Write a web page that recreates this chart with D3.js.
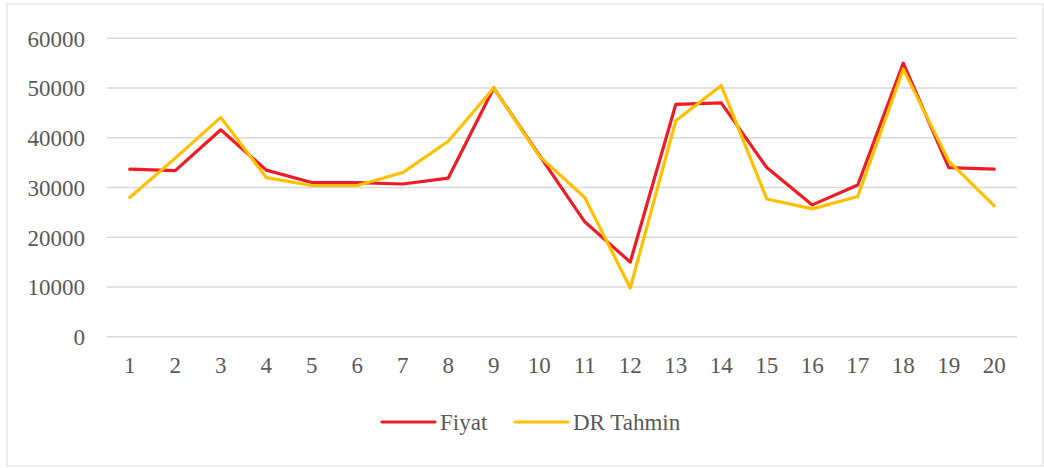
<!DOCTYPE html>
<html>
<head>
<meta charset="utf-8">
<script src="https://cdn.jsdelivr.net/npm/d3@7"></script>
<style>
  html, body { margin: 0; padding: 0; background: #fff; }
  svg { display: block; }
  svg text { font-family: "Times New Roman", "Liberation Serif", "DejaVu Serif", serif !important; fill: #595959; }
</style>
</head>
<body>
<svg id="chart" width="1044" height="468"></svg>
<script>
// data
var categories = ["1","2","3","4","5","6","7","8","9","10","11","12","13","14","15","16","17","18","19","20"];
var fiyat = [33700, 33400, 41600, 33500, 31000, 31000, 30700, 31900, 50000, 36500,
             23100, 15000, 46700, 47000, 34000, 26500, 30500, 55000, 34000, 33700];
var drTahmin = [28000, 35900, 44100, 32000, 30400, 30400, 33000, 39300, 50000, 36300,
                28000, 9800, 43400, 50500, 27700, 25700, 28200, 53800, 35300, 26300];
var yTicks = [0, 10000, 20000, 30000, 40000, 50000, 60000];
var seriesNames = ["Fiyat", "DR Tahmin"];
var seriesColors = ["#EE1C25", "#FFC000"];

var svg = d3.select("#chart");

// outer frame
svg.append("rect")
  .attr("x", 7).attr("y", 4)
  .attr("width", 1036).attr("height", 462)
  .attr("fill", "none")
  .attr("stroke", "#d9d9d9")
  .attr("stroke-width", 1);

var x = d3.scaleBand().domain(categories).range([107, 1017]);
var y = d3.scaleLinear().domain([0, 60000]).range([336.7, 38.3]);

// gridlines
svg.append("g").selectAll("line")
  .data(yTicks)
  .enter()
  .append("line")
  .attr("x1", 107).attr("x2", 1017)
  .attr("y1", function(d) { return y(d); })
  .attr("y2", function(d) { return y(d); })
  .attr("stroke", "#d9d9d9")
  .attr("stroke-width", 1.4);

// y axis labels
var yAxis = svg.append("g")
  .attr("transform", "translate(85,0)")
  .attr("font-family", null)
  .call(d3.axisLeft(y).tickValues(yTicks).tickSize(0).tickPadding(0).tickFormat(d3.format("d")));
yAxis.attr("font-family", null).attr("font-size", null);
yAxis.select(".domain").remove();
yAxis.selectAll("text")
  .attr("font-size", 23)
  .attr("fill", "#595959")
  .attr("dy", "0.34em");

// x axis labels
var xAxis = svg.append("g")
  .attr("transform", "translate(0,336.7)")
  .call(d3.axisBottom(x).tickSize(0).tickPadding(0));
xAxis.attr("font-family", null).attr("font-size", null);
xAxis.select(".domain").remove();
xAxis.selectAll("text")
  .attr("font-size", 23)
  .attr("fill", "#595959")
  .attr("y", 36)
  .attr("dy", 0);

// lines
var line = d3.line()
  .x(function(d, i) { return x(categories[i]) + x.bandwidth() / 2; })
  .y(function(d) { return y(d); });

[fiyat, drTahmin].forEach(function(s, k) {
  svg.append("path")
    .datum(s)
    .attr("d", line)
    .attr("fill", "none")
    .attr("stroke", seriesColors[k])
    .attr("stroke-width", 3.2)
    .attr("stroke-linejoin", "round")
    .attr("stroke-linecap", "round");
});

// legend
var legendX = [382, 515];
var legend = svg.append("g").selectAll("g")
  .data(seriesNames)
  .enter()
  .append("g")
  .attr("transform", function(d, i) { return "translate(" + legendX[i] + ",422)"; });
legend.append("line")
  .attr("x1", 0).attr("x2", 53)
  .attr("stroke", function(d, i) { return seriesColors[i]; })
  .attr("stroke-width", 3.2)
  .attr("stroke-linecap", "round");
legend.append("text")
  .attr("x", 58)
  .attr("y", 8)
  .attr("font-size", 23)
  .text(function(d) { return d; });
</script>
</body>
</html>
